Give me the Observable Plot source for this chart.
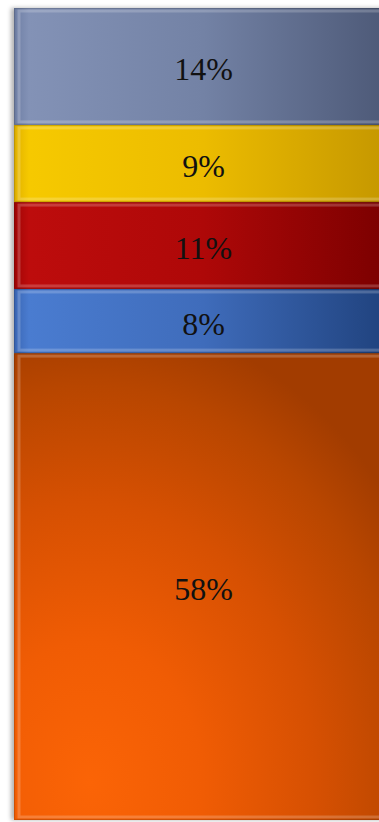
<!DOCTYPE html>
<html>
<head>
<meta charset="utf-8">
<script src="https://cdn.jsdelivr.net/npm/d3@7"></script>
<script src="https://cdn.jsdelivr.net/npm/@observablehq/plot@0.6"></script>
<style>
html, body { margin: 0; padding: 0; background: #fff; overflow: hidden; }
#chart svg { display: block; }
</style>
</head>
<body>
<div id="chart"></div>
<script>
// bottom-to-top stack order
const segments = ["s58", "s8", "s11", "s9", "s14"];
const values = [57.5, 7.9, 10.7, 9.5, 14.4];
const labels = ["58%", "8%", "11%", "9%", "14%"];
const gradientIds = ["gOrange", "gBlue", "gRed", "gYellow", "gSlate"];

const data = segments.map((s, i) => ({
  key: s, cat: "all", value: values[i], label: labels[i], fill: `url(#${gradientIds[i]})`
}));

const chart = Plot.plot({
  width: 379,
  height: 822,
  marginTop: 8,
  marginBottom: 2,
  marginLeft: 14,
  marginRight: 0,
  x: {domain: ["all"], range: [14, 392], padding: 0, axis: null},
  y: {domain: [0, 100], axis: null},
  marks: [
    Plot.barY(data, {x: "cat", y: "value", fill: "fill", order: null, inset: 0}),
    Plot.barY(data, {x: "cat", y: "value", fill: "none", order: null, stroke: "white", strokeOpacity: 0.2, strokeWidth: 3, insetTop: 3, insetBottom: 3, insetLeft: 5, insetRight: 4}),
    Plot.barY(data, {x: "cat", y: "value", fill: "none", order: null, stroke: "black", strokeOpacity: 0.15, strokeWidth: 1.2, insetTop: 0.6, insetBottom: 0.6, insetLeft: 0.6, insetRight: 0.6}),
    Plot.text(data, Plot.stackY({x: "cat", y: "value", text: "label", order: null, dy: 3, fontSize: 32, fill: "#111", fontFamily: "'Liberation Serif', 'DejaVu Serif', serif"}))
  ]
});

const ns = "http://www.w3.org/2000/svg";
const defs = document.createElementNS(ns, "defs");
function addStops(g, stops) {
  stops.forEach(([o, c]) => {
    const s = document.createElementNS(ns, "stop");
    s.setAttribute("offset", o); s.setAttribute("stop-color", c);
    g.appendChild(s);
  });
}
function linGrad(id, stops) {
  const g = document.createElementNS(ns, "linearGradient");
  g.setAttribute("id", id);
  g.setAttribute("x1", "0"); g.setAttribute("y1", "0");
  g.setAttribute("x2", "1"); g.setAttribute("y2", "0");
  addStops(g, stops);
  defs.appendChild(g);
}
linGrad("gSlate", [["0", "#6e7ea4"], ["0.04", "#8392b6"], ["0.5", "#7382a5"], ["1", "#4c5876"]]);
linGrad("gYellow", [["0", "#e0b000"], ["0.04", "#f6c900"], ["0.5", "#ecbc00"], ["1", "#c49600"]]);
linGrad("gRed", [["0", "#a00505"], ["0.04", "#bd0c0c"], ["0.5", "#ae0808"], ["1", "#7a0000"]]);
linGrad("gBlue", [["0", "#3a66b4"], ["0.04", "#4a7cd0"], ["0.5", "#3f6cbb"], ["1", "#1f417c"]]);
const rg = document.createElementNS(ns, "radialGradient");
rg.setAttribute("id", "gOrange");
rg.setAttribute("cx", "0.2"); rg.setAttribute("cy", "0.92");
rg.setAttribute("r", "1.0");
addStops(rg, [["0", "#fb6406"], ["0.3", "#f05c04"], ["0.6", "#d65002"], ["0.85", "#b84600"], ["1", "#a23c00"]]);
defs.appendChild(rg);
chart.insertBefore(defs, chart.firstChild);

// soft shadow on the left of the bar
const firstBars = chart.querySelector("g[aria-label='bar']");
if (firstBars) firstBars.style.filter = "drop-shadow(-3px 0px 2px rgba(0,0,0,0.3))";

document.getElementById("chart").appendChild(chart);
</script>
</body>
</html>
